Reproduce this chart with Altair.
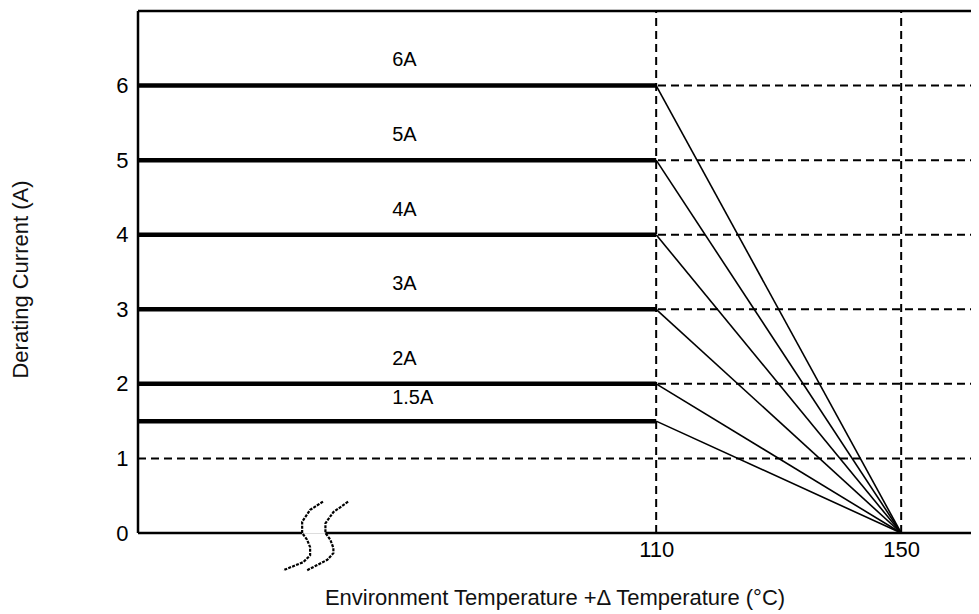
import altair as alt
import pandas as pd

# ---- data ----
ratings = [6, 5, 4, 3, 2, 1.5]
rating_labels = ["6A", "5A", "4A", "3A", "2A", "1.5A"]
label_y = [6.34, 5.34, 4.33, 3.34, 2.33, 1.81]
label_x = [66.9, 66.9, 66.9, 66.9, 66.9, 66.9]
knee_temp = 110
zero_temp = 150
x_min, x_max = 25.4, 161.4
y_min, y_max = 0, 7
grid_y = [1, 2, 3, 4, 5, 6]
grid_x = [110, 150]
y_ticks = [0, 1, 2, 3, 4, 5, 6]
x_ticks = [110, 150]
brk1_x = [55.6, 53.5, 52.2, 52.2, 53.0, 53.5, 53.5, 52.4, 49.1]
brk1_y = [0.42, 0.31, 0.15, 0.0, -0.09, -0.19, -0.30, -0.39, -0.50]
brk2_x = [59.7, 57.3, 56.0, 56.0, 56.8, 57.3, 57.3, 56.3, 53.0]
brk2_y = [0.42, 0.28, 0.13, 0.0, -0.09, -0.20, -0.27, -0.36, -0.50]
gap_start, gap_end = 52.2, 56.0

FONT = "Liberation Sans"

xs = alt.Scale(domain=[x_min, x_max], nice=False, zero=False)
ys = alt.Scale(domain=[y_min, y_max], nice=False, zero=False)

X_AX = alt.Axis(values=x_ticks, title="Environment Temperature +Δ Temperature (°C)",
                format="d",
                grid=False, domain=False, ticks=False, tickSize=0, labelPadding=6,
                labelFontSize=22, labelFont=FONT, labelColor="#000",
                titleFontSize=22, titleFont=FONT, titleFontWeight="normal",
                titleColor="#111", titlePadding=27)
Y_AX = alt.Axis(values=y_ticks, title="Derating Current (A)", format="d",
                grid=False, domain=False, ticks=False, tickSize=0, labelPadding=10,
                labelFontSize=22, labelFont=FONT, labelColor="#000",
                titleFontSize=22, titleFont=FONT, titleFontWeight="normal",
                titleColor="#111", titleAngle=270, titleBaseline="middle",
                titleAlign="center", titleX=-118, titleY=268)

# base layer providing axes
axes_df = pd.DataFrame({"x": [x_min, x_max], "y": [y_min, y_max]})
base = alt.Chart(axes_df).mark_point(opacity=0).encode(
    x=alt.X("x:Q", scale=xs, axis=X_AX),
    y=alt.Y("y:Q", scale=ys, axis=Y_AX),
)

# dashed grid
gh = alt.Chart(pd.DataFrame({"y": grid_y, "x": x_min, "x2": x_max})).mark_rule(
    color="#000", strokeWidth=2, strokeDash=[8, 5]).encode(
    x=alt.X("x:Q", scale=xs), x2="x2:Q", y=alt.Y("y:Q", scale=ys))
gv = alt.Chart(pd.DataFrame({"x": grid_x, "y": y_min, "y2": y_max})).mark_rule(
    color="#000", strokeWidth=2, strokeDash=[8, 5]).encode(
    x=alt.X("x:Q", scale=xs), y=alt.Y("y:Q", scale=ys), y2="y2:Q")

# frame: left, top, bottom (with break gap)
frame_h = pd.DataFrame({
    "x": [x_min, gap_end, x_min],
    "x2": [gap_start, x_max, x_max],
    "y": [y_min, y_min, y_max],
})
fh = alt.Chart(frame_h).mark_rule(color="#000", strokeWidth=2.5).encode(
    x=alt.X("x:Q", scale=xs), x2="x2:Q", y=alt.Y("y:Q", scale=ys))
fv = alt.Chart(pd.DataFrame({"x": [x_min], "y": [y_min], "y2": [y_max]})).mark_rule(
    color="#000", strokeWidth=2.5).encode(
    x=alt.X("x:Q", scale=xs), y=alt.Y("y:Q", scale=ys), y2="y2:Q")

# thick rated-current lines
flat = alt.Chart(pd.DataFrame({"x": x_min, "x2": knee_temp, "y": ratings})).mark_rule(
    color="#000", strokeWidth=4.5).encode(
    x=alt.X("x:Q", scale=xs), x2="x2:Q", y=alt.Y("y:Q", scale=ys))

# derating slopes
rows = []
for r, lab in zip(ratings, rating_labels):
    rows.append({"series": lab, "x": knee_temp, "y": r, "o": 0})
    rows.append({"series": lab, "x": zero_temp, "y": 0, "o": 1})
slopes = alt.Chart(pd.DataFrame(rows)).mark_line(color="#000", strokeWidth=1.6).encode(
    x=alt.X("x:Q", scale=xs), y=alt.Y("y:Q", scale=ys), detail="series:N", order="o:Q")

# axis break squiggles
brk_rows = []
for i, (bx, by) in enumerate(zip(brk1_x, brk1_y)):
    brk_rows.append({"s": "a", "x": bx, "y": by, "o": i})
for i, (bx, by) in enumerate(zip(brk2_x, brk2_y)):
    brk_rows.append({"s": "b", "x": bx, "y": by, "o": i})
brk = alt.Chart(pd.DataFrame(brk_rows)).mark_line(
    color="#000", strokeWidth=2.2, strokeDash=[3, 1.2], clip=False).encode(
    x=alt.X("x:Q", scale=xs), y=alt.Y("y:Q", scale=ys), detail="s:N", order="o:Q")

# labels
labels = alt.Chart(pd.DataFrame({"x": label_x, "y": label_y, "t": rating_labels})).mark_text(
    align="left", baseline="middle", fontSize=20, font=FONT, color="#000").encode(
    x=alt.X("x:Q", scale=xs), y=alt.Y("y:Q", scale=ys), text="t:N")

chart = alt.layer(base, gh, gv, fh, fv, flat, slopes, brk, labels).properties(
    width=833, height=522,
    autosize=alt.AutoSizeParams(type="none"),
    padding={"left": 130, "top": 3, "right": 0, "bottom": 81},
).configure_view(stroke=None).configure(background="white")

chart.save("out.html", embed_options={"renderer": "svg", "actions": False})
